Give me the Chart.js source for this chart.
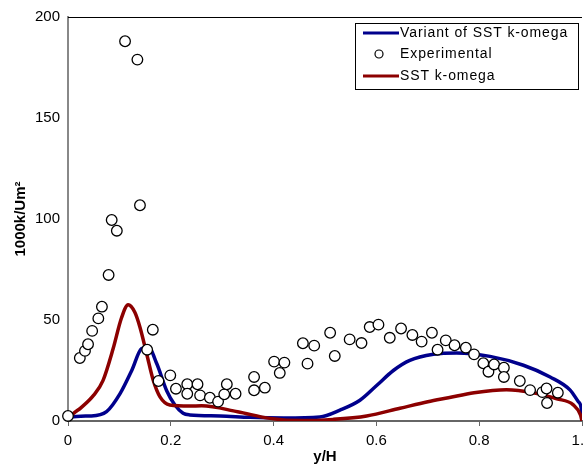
<!DOCTYPE html>
<html>
<head>
<meta charset="utf-8">
<script src="https://cdn.jsdelivr.net/npm/chart.js@4/dist/chart.umd.min.js"></script>
<style>
  html, body { margin: 0; padding: 0; background: #fff; overflow: hidden; }
  #wrap { width: 583px; height: 466px; overflow: hidden; position: relative; }
  #box { width: 600px; height: 466px; position: absolute; left: 0; top: 0; }
</style>
</head>
<body>
<div id="wrap"><div id="box"><canvas id="chart"></canvas></div></div>
<script>
// experimental points
const expX = [0, 0.023, 0.033, 0.039, 0.047, 0.059, 0.066, 0.079, 0.085, 0.095, 0.111, 0.135, 0.140,
  0.154, 0.165, 0.176, 0.199, 0.210, 0.232, 0.232, 0.252, 0.257, 0.276, 0.292, 0.304, 0.309, 0.326,
  0.362, 0.362, 0.383, 0.401, 0.412, 0.421, 0.457, 0.466, 0.479, 0.510, 0.519, 0.548, 0.571, 0.587,
  0.604, 0.626, 0.648, 0.670, 0.688, 0.708, 0.719, 0.735, 0.752, 0.774, 0.790, 0.808, 0.818, 0.829,
  0.848, 0.848, 0.879, 0.899, 0.923, 0.931, 0.932, 0.953];
const expY = [2.5, 31.2, 34.7, 38, 44.6, 50.8, 56.6, 72.3, 99.5, 94.2, 188, 178.9, 106.8,
  35.3, 45.2, 19.8, 22.6, 16, 18.2, 13.5, 18.2, 12.7, 11.5, 9.6, 13.2, 18.2, 13.5,
  21.8, 15.2, 16.5, 29.4, 23.8, 28.9, 38.5, 28.4, 37.3, 43.7, 32.2, 40.4, 38.6, 46.5,
  47.7, 41.2, 45.8, 42.6, 39.3, 43.7, 35.3, 39.9, 37.5, 36.3, 33, 28.6, 24.4, 28,
  26.4, 21.8, 19.8, 15.3, 14.3, 16.1, 8.9, 14];

// Variant of SST k-omega
const varX = [0, 0.004, 0.043, 0.075, 0.101, 0.124, 0.143, 0.156, 0.173, 0.192, 0.208, 0.224, 0.237,
  0.296, 0.354, 0.42, 0.49, 0.529, 0.568, 0.601, 0.633, 0.665, 0.711, 0.756, 0.821, 0.886, 0.938,
  0.977, 0.993, 0.999, 1];
const varY = [0, 1.8, 2.5, 4.6, 13.4, 25, 35.8, 36.6, 28.2, 15, 7.9, 3.8, 3,
  2.5, 1.8, 1.5, 2, 5.4, 10.3, 17.7, 25, 30, 33, 33.7, 32, 27.6, 21.8,
  15.3, 9.5, 5.4, 0];

// SST k-omega
const sstX = [0, 0.01, 0.025, 0.05, 0.068, 0.088, 0.104, 0.117, 0.13, 0.14, 0.153, 0.166, 0.179,
  0.198, 0.237, 0.26, 0.33, 0.393, 0.457, 0.516, 0.581, 0.646, 0.70, 0.74, 0.79, 0.853, 0.905,
  0.951, 0.983, 0.997, 1];
const sstY = [0, 3.5, 6.5, 12.8, 20, 36, 51, 57.5, 53.8, 46.4, 33.3, 20, 11.9,
  7.9, 7.4, 7.5, 4.6, 1.3, 0.2, 0.8, 2.5, 6.3, 9.5, 11.5, 14, 15.5, 14,
  11, 8, 3, 0];

const xTicks = [0, 0.2, 0.4, 0.6, 0.8, 1];
const yTicks = [0, 50, 100, 150, 200];

const pts = (xs, ys) => xs.map((x, i) => ({ x: x, y: ys[i] }));

// legend drawn inside the plot, with a box
const boxLegend = {
  id: 'boxLegend',
  afterDraw(chart) {
    const c = chart.ctx;
    const a = chart.chartArea;
    // frame: top line
    c.save();
    c.strokeStyle = '#000';
    c.lineWidth = 1;
    c.beginPath();
    c.moveTo(a.left, a.top + 0.5);
    c.lineTo(a.right, a.top + 0.5);
    c.stroke();

    const L = 355, T = 23, W = 223, H = 66;
    c.fillStyle = '#fff';
    c.fillRect(L, T, W, H);
    c.strokeRect(L + 0.5, T + 0.5, W, H);
    c.font = '14px "Liberation Sans", Arial, sans-serif';
    c.letterSpacing = '0.9px';
    c.textBaseline = 'middle';
    const rows = [33, 54, 76];
    chart.data.datasets.forEach((ds, i) => {
      const y = rows[i];
      if (ds.showLine) {
        c.strokeStyle = ds.borderColor;
        c.lineWidth = 3;
        c.beginPath();
        c.moveTo(363, y);
        c.lineTo(399, y);
        c.stroke();
      } else {
        c.strokeStyle = '#000';
        c.lineWidth = 1.2;
        c.beginPath();
        c.arc(379, y, 4, 0, Math.PI * 2);
        c.stroke();
      }
      c.fillStyle = '#000';
      c.fillText(ds.label, 400, y);
    });
    c.restore();
  }
};

new Chart(document.getElementById('chart'), {
  type: 'scatter',
  data: {
    datasets: [
      {
        label: 'Variant of SST k-omega',
        data: pts(varX, varY),
        showLine: true,
        borderColor: '#00008C',
        borderWidth: 3.5,
        pointRadius: 0,
        cubicInterpolationMode: 'monotone',
        order: 2
      },
      {
        label: 'Experimental',
        data: pts(expX, expY),
        showLine: false,
        pointRadius: 5.3,
        borderWidth: 1.3,
        borderColor: '#000',
        backgroundColor: '#fff',
        clip: false,
        order: 0
      },
      {
        label: 'SST k-omega',
        data: pts(sstX, sstY),
        showLine: true,
        borderColor: '#8C0000',
        borderWidth: 3.5,
        pointRadius: 0,
        cubicInterpolationMode: 'monotone',
        order: 1
      }
    ]
  },
  options: {
    responsive: true,
    maintainAspectRatio: false,
    animation: false,
    layout: { padding: { top: 15, right: 18, left: 0, bottom: 0 } },
    plugins: { legend: { display: false }, tooltip: { enabled: false } },
    scales: {
      x: {
        type: 'linear',
        min: 0, max: 1,
        afterBuildTicks: s => { s.ticks = xTicks.map(v => ({ value: v })); },
        afterFit: s => { s.height = 45; },
        border: { color: '#666', width: 2 },
        grid: { drawOnChartArea: false, drawTicks: true, tickLength: 5, color: '#666' },
        ticks: { color: '#000', font: { family: '"Liberation Sans", Arial', size: 15 }, padding: 6 },
        title: { display: true, text: 'y/H', color: '#000', padding: 0,
          font: { family: '"Liberation Sans", Arial', size: 15, weight: 'bold' } }
      },
      y: {
        min: 0, max: 200,
        afterBuildTicks: s => { s.ticks = yTicks.map(v => ({ value: v })); },
        afterFit: s => { s.width = 68; },
        border: { color: '#888', width: 2 },
        grid: { display: false, drawTicks: false },
        ticks: { color: '#000', font: { family: '"Liberation Sans", Arial', size: 15 }, padding: 8 },
        title: { display: true, text: '1000k/Um²', color: '#000', padding: { top: 12, bottom: 0 },
          font: { family: '"Liberation Sans", Arial', size: 15, weight: 'bold' } }
      }
    }
  },
  plugins: [boxLegend]
});
</script>
</body>
</html>
